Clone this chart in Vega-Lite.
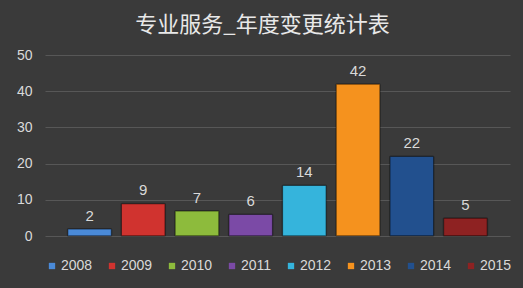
{
  "$schema": "https://vega.github.io/schema/vega-lite/v6.json",
  "autosize": {"type": "none"},
  "width": 465,
  "height": 181,
  "padding": {"left": 45, "top": 55, "right": 13, "bottom": 52},
  "background": "#3a3a3a",
  "title": {
    "text": "专业服务_年度变更统计表",
    "font": "Noto Sans CJK SC",
    "fontSize": 22,
    "fontWeight": "normal",
    "color": "#e8e8e8",
    "anchor": "middle",
    "offset": 11,
    "dx": -15
  },
  "config": {
    "view": {"stroke": null},
    "font": "Liberation Sans"
  },
  "data": {
    "values": [
      {"year": "2008", "count": 2},
      {"year": "2009", "count": 9},
      {"year": "2010", "count": 7},
      {"year": "2011", "count": 6},
      {"year": "2012", "count": 14},
      {"year": "2013", "count": 42},
      {"year": "2014", "count": 22},
      {"year": "2015", "count": 5}
    ]
  },
  "encoding": {
    "x": {
      "field": "year",
      "type": "nominal",
      "scale": {"paddingInner": 0.18, "paddingOuter": 0.42},
      "axis": null
    },
    "y": {
      "field": "count",
      "type": "quantitative",
      "scale": {"domain": [0, 50]},
      "axis": {
        "values": [0, 10, 20, 30, 40, 50],
        "title": null,
        "domain": false,
        "ticks": false,
        "labelPadding": 13,
        "labelFontSize": 14,
        "labelColor": "#d9d9d9",
        "gridColor": "#575757",
        "gridWidth": 1
      }
    }
  },
  "layer": [
    {
      "mark": {"type": "bar", "stroke": "#000000", "strokeOpacity": 0.3, "strokeWidth": 1.5, "cornerRadius": 1},
      "encoding": {
        "color": {
          "field": "year",
          "type": "nominal",
          "scale": {
            "domain": ["2008", "2009", "2010", "2011", "2012", "2013", "2014", "2015"],
            "range": ["#4a8ad8", "#d0332f", "#8dbb3c", "#7b4aa6", "#35b4dc", "#f5921e", "#22508e", "#8e2222"]
          },
          "legend": {
            "orient": "none",
            "legendX": 0,
            "legendY": 204,
            "direction": "horizontal",
            "title": null,
            "symbolType": "square",
            "symbolSize": 40,
            "symbolStrokeWidth": 0,
            "labelFontSize": 14,
            "labelColor": "#d9d9d9",
            "labelOffset": 2,
            "columnPadding": 12
          }
        }
      }
    },
    {
      "mark": {"type": "text", "dy": -13, "fontSize": 15, "color": "#d9d9d9"},
      "encoding": {
        "text": {"field": "count", "type": "quantitative"}
      }
    }
  ]
}
